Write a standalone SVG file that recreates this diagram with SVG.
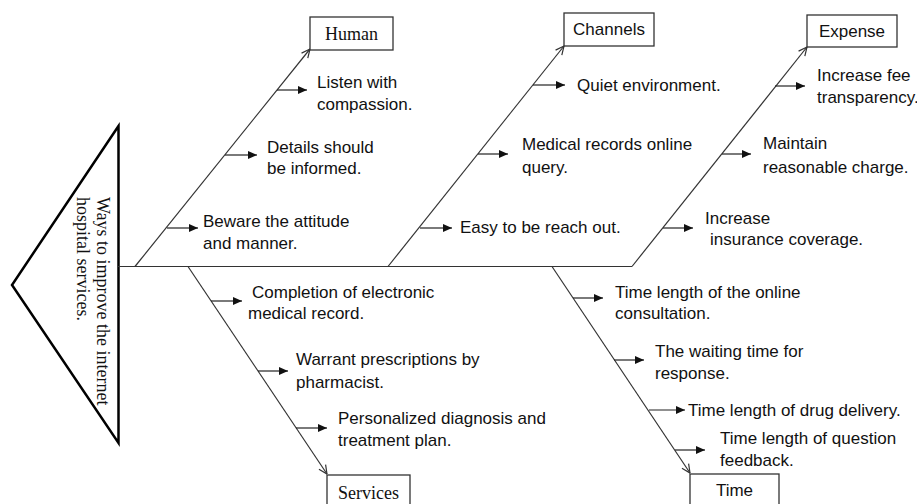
<svg xmlns="http://www.w3.org/2000/svg" width="917" height="504" viewBox="0 0 917 504">
<style>
.bone{stroke:#333;stroke-width:1.2;fill:none}
.sub{stroke:#222;stroke-width:1.2;fill:none}
.box{fill:#fff;stroke:#333;stroke-width:1.3}
.t{font-family:"Liberation Sans",Arial,sans-serif;font-size:17px;fill:#111}
.s{font-family:"Liberation Serif","Times New Roman",serif;font-size:18px;fill:#111}
.c{text-anchor:middle}
</style>
<defs>
<marker id="open" viewBox="0 0 10 10" refX="9.5" refY="5" markerWidth="10" markerHeight="10" markerUnits="userSpaceOnUse" orient="auto">
<path d="M1,1 L9.5,5 L1,9" fill="none" stroke="#333" stroke-width="1.2"/>
</marker>
<marker id="fill" viewBox="0 0 10 10" refX="10" refY="5" markerWidth="9" markerHeight="8" markerUnits="userSpaceOnUse" orient="auto" preserveAspectRatio="none">
<path d="M0,0 L10,5 L0,10 Z" fill="#111"/>
</marker>
</defs>
<rect width="917" height="504" fill="#fff"/>
<g id="head">
<polygon points="118.5,126 12,285 118.5,443" fill="#fff" stroke="#000" stroke-width="2.5" stroke-linejoin="miter"/>
<text class="s" transform="translate(97,197) rotate(90)">Ways to improve the internet</text>
<text class="s" transform="translate(77,197) rotate(90)">hospital services.</text>
</g>
<g id="connectors">
<line class="bone" x1="118" y1="266.5" x2="632" y2="266.5" stroke-width="1.5"/>
<line class="bone" x1="135" y1="266.5" x2="310" y2="49" marker-end="url(#open)"/>
<line class="bone" x1="388" y1="266.5" x2="564" y2="46" marker-end="url(#open)"/>
<line class="bone" x1="632" y1="266.5" x2="807" y2="47" marker-end="url(#open)"/>
<line class="bone" x1="188" y1="266.5" x2="327" y2="474" marker-end="url(#open)"/>
<line class="bone" x1="552" y1="266.5" x2="690" y2="473" marker-end="url(#open)"/>
<line class="sub" x1="277" y1="90" x2="307" y2="90" marker-end="url(#fill)"/>
<line class="sub" x1="225" y1="155" x2="257" y2="155" marker-end="url(#fill)"/>
<line class="sub" x1="167" y1="228" x2="198" y2="228" marker-end="url(#fill)"/>
<line class="sub" x1="533" y1="85" x2="565" y2="85" marker-end="url(#fill)"/>
<line class="sub" x1="478" y1="154" x2="508" y2="154" marker-end="url(#fill)"/>
<line class="sub" x1="420" y1="228" x2="452" y2="228" marker-end="url(#fill)"/>
<line class="sub" x1="775" y1="86" x2="805" y2="86" marker-end="url(#fill)"/>
<line class="sub" x1="722" y1="154" x2="751" y2="154" marker-end="url(#fill)"/>
<line class="sub" x1="663" y1="228" x2="693" y2="228" marker-end="url(#fill)"/>
<line class="sub" x1="211" y1="301" x2="242" y2="301" marker-end="url(#fill)"/>
<line class="sub" x1="258" y1="371" x2="288" y2="371" marker-end="url(#fill)"/>
<line class="sub" x1="296" y1="428" x2="327" y2="428" marker-end="url(#fill)"/>
<line class="sub" x1="573" y1="298" x2="603" y2="298" marker-end="url(#fill)"/>
<line class="sub" x1="614" y1="360" x2="644" y2="360" marker-end="url(#fill)"/>
<line class="sub" x1="649" y1="410" x2="685" y2="410" marker-end="url(#fill)"/>
<line class="sub" x1="675" y1="450" x2="705" y2="450" marker-end="url(#fill)"/>
</g>
<g id="human">
<rect class="box" x="310" y="17" width="83" height="33"/>
<text class="s c" x="351.5" y="40">Human</text>
<text class="t" x="317" y="88">Listen with</text>
<text class="t" x="317" y="110">compassion.</text>
<text class="t" x="267" y="153">Details should</text>
<text class="t" x="267" y="174">be informed.</text>
<text class="t" x="203" y="227">Beware the attitude</text>
<text class="t" x="203" y="249">and manner.</text>
</g>
<g id="channels">
<rect class="box" x="564" y="13" width="90" height="33"/>
<text class="t c" x="609" y="35">Channels</text>
<text class="t" x="577" y="91">Quiet environment.</text>
<text class="t" x="522" y="150">Medical records online</text>
<text class="t" x="522" y="173">query.</text>
<text class="t" x="460" y="233">Easy to be reach out.</text>
</g>
<g id="expense">
<rect class="box" x="807" y="15" width="90" height="32"/>
<text class="t c" x="852" y="37">Expense</text>
<text class="t" x="817" y="81">Increase fee</text>
<text class="t" x="817" y="103">transparency.</text>
<text class="t" x="763" y="149">Maintain</text>
<text class="t" x="763" y="173">reasonable charge.</text>
<text class="t" x="705" y="224">Increase</text>
<text class="t" x="710" y="245">insurance coverage.</text>
</g>
<g id="services">
<rect class="box" x="327" y="475" width="83" height="40"/>
<text class="s c" x="368.5" y="499">Services</text>
<text class="t" x="252" y="298">Completion of electronic</text>
<text class="t" x="248" y="319">medical record.</text>
<text class="t" x="296" y="365">Warrant prescriptions by</text>
<text class="t" x="296" y="388">pharmacist.</text>
<text class="t" x="338" y="424">Personalized diagnosis and</text>
<text class="t" x="338" y="446">treatment plan.</text>
</g>
<g id="time">
<rect class="box" x="690" y="474" width="89" height="40"/>
<text class="t c" x="734.5" y="496">Time</text>
<text class="t" x="615" y="298">Time length of the online</text>
<text class="t" x="615" y="319">consultation.</text>
<text class="t" x="655" y="357">The waiting time for</text>
<text class="t" x="655" y="379">response.</text>
<text class="t" x="688" y="416">Time length of drug delivery.</text>
<text class="t" x="720" y="444">Time length of question</text>
<text class="t" x="720" y="466">feedback.</text>
</g>
</svg>
